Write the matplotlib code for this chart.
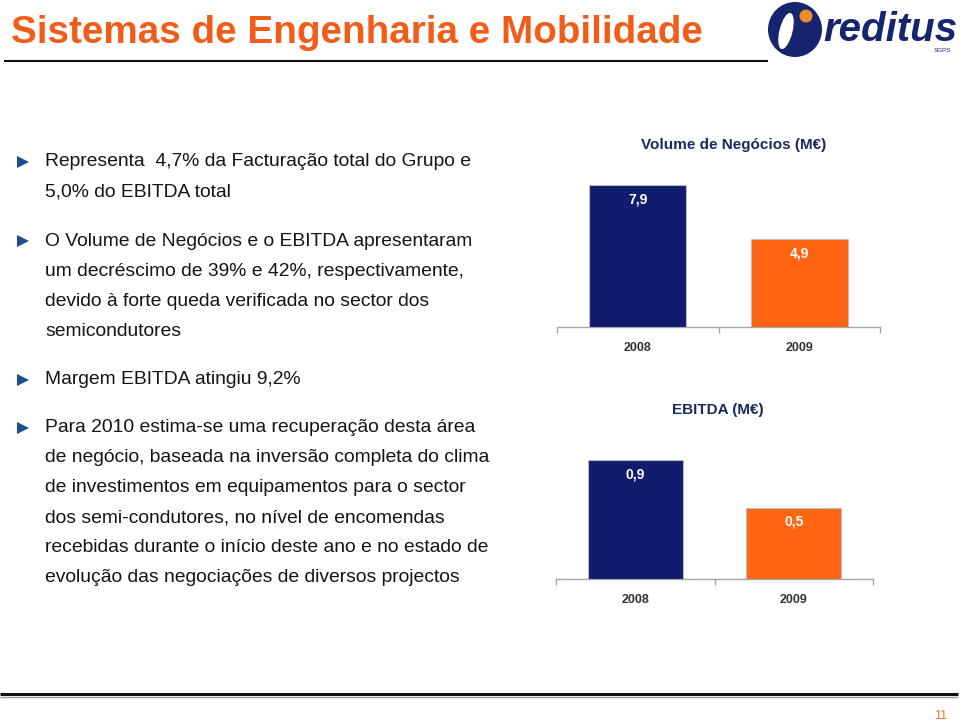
import matplotlib
matplotlib.use("Agg")
import matplotlib.pyplot as plt
from matplotlib.patches import Ellipse, Circle, Polygon

plt.rcParams['font.family'] = ['Liberation Sans', 'DejaVu Sans']

# ---- data ----
years = ["2008", "2009"]
volume_values = [7.9, 4.9]
ebitda_values = [0.9, 0.54]
bar_colors = ["#111C6E", "#FF6410"]

slide_title = "Sistemas de Engenharia e Mobilidade"
volume_title = "Volume de Negócios (M€)"
ebitda_title = "EBITDA (M€)"
bullets = [
    ["Representa  4,7% da Facturação total do Grupo e",
     "5,0% do EBITDA total"],
    ["O Volume de Negócios e o EBITDA apresentaram",
     "um decréscimo de 39% e 42%, respectivamente,",
     "devido à forte queda verificada no sector dos",
     "semicondutores"],
    ["Margem EBITDA atingiu 9,2%"],
    ["Para 2010 estima-se uma recuperação desta área",
     "de negócio, baseada na inversão completa do clima",
     "de investimentos em equipamentos para o sector",
     "dos semi-condutores, no nível de encomendas",
     "recebidas durante o início deste ano e no estado de",
     "evolução das negociações de diversos projectos"],
]
page_number = "11"

W, H = 960, 724
fig = plt.figure(figsize=(W / 100, H / 100), dpi=100)

# overlay in pixel coordinates
ov = fig.add_axes([0, 0, 1, 1])
ov.set_xlim(0, W)
ov.set_ylim(H, 0)
ov.axis('off')

# title and rules
ov.text(11, 33, slide_title, fontsize=27.8, fontweight='bold', color='#F25C19',
        va='center', ha='left')
ov.plot([4, 768], [61, 61], color='#111111', lw=1.5, solid_capstyle='butt')
ov.plot([0, 958], [694, 694], color='#111111', lw=2.2, solid_capstyle='butt')
ov.plot([0, 958], [696.5, 696.5], color='#9a9a9a', lw=1.0, solid_capstyle='butt')
ov.text(947, 716, page_number, fontsize=9, color='#E8742A', ha='right', va='center')

# logo
ov.add_patch(Ellipse((795, 29.5), 54, 55, facecolor='#16266E', edgecolor='none'))
ov.add_patch(Ellipse((786, 31), 13, 37, angle=14, facecolor='white', edgecolor='none'))
ov.add_patch(Circle((806, 16), 6.5, facecolor='#F28A2E', edgecolor='none'))
ov.text(890, 30, "reditus", fontsize=29, fontweight='bold', fontstyle='italic',
        color='#16266E', ha='center', va='center')
ov.text(942, 51, "SGPS", fontsize=4.5, color='#16266E', ha='center', va='center')

# bullets
line_h = 30
y_starts = [162, 241, 380, 428]
for y0, lines in zip(y_starts, bullets):
    ov.add_patch(Polygon([[17, y0 - 6], [17, y0 + 6], [29, y0]], closed=True,
                         facecolor='#1F4E8C', edgecolor='none'))
    for i, ln in enumerate(lines):
        ov.text(45, y0 + i * line_h, ln, fontsize=13.9, color='#141414',
                ha='left', va='center')


def bar_chart(left, right, base, px_per_unit, top_val, values, title, title_x, title_y, lab_off):
    height_px = top_val * px_per_unit
    ax = fig.add_axes([left / W, 1 - base / H, (right - left) / W, height_px / H])
    ax.set_xlim(-0.5, 1.5)
    ax.set_ylim(0, top_val)
    x = range(len(values))
    ax.bar(x, values, width=0.6, color=bar_colors, edgecolor='#bdbdbd', linewidth=0.8,
           zorder=3)
    for xi, v in zip(x, values):
        ax.annotate(f"{v:.1f}".replace('.', ','), (xi, v), xytext=(0, -lab_off),
                    textcoords='offset pixels', ha='center', va='center',
                    color='white', fontweight='bold', fontsize=10, zorder=4)
    for s in ['top', 'right', 'left']:
        ax.spines[s].set_visible(False)
    ax.spines['bottom'].set_color('#a6a6a6')
    ax.spines['bottom'].set_linewidth(1.0)
    ax.set_yticks([])
    ax.set_xticks(list(x))
    ax.set_xticklabels(years, fontsize=9, fontweight='bold', color='#333333')
    ax.tick_params(axis='x', which='major', length=0, pad=10.5)
    ax.set_xticks([-0.5, 0.5, 1.5], minor=True)
    ax.tick_params(axis='x', which='minor', length=4, color='#a6a6a6', width=1.0)
    ax.patch.set_alpha(0)
    ov.text(title_x, title_y, title, ha='center', va='center',
            fontsize=11, fontweight='bold', color='#1B2A5E')
    return ax


bar_chart(557, 880, 327, 18.0, 8.75, volume_values, volume_title, 734, 145, 15)
bar_chart(556, 873, 579, 132.0, 1.05, ebitda_values, ebitda_title, 718, 410, 14)

fig.savefig("out.png", dpi=100)
